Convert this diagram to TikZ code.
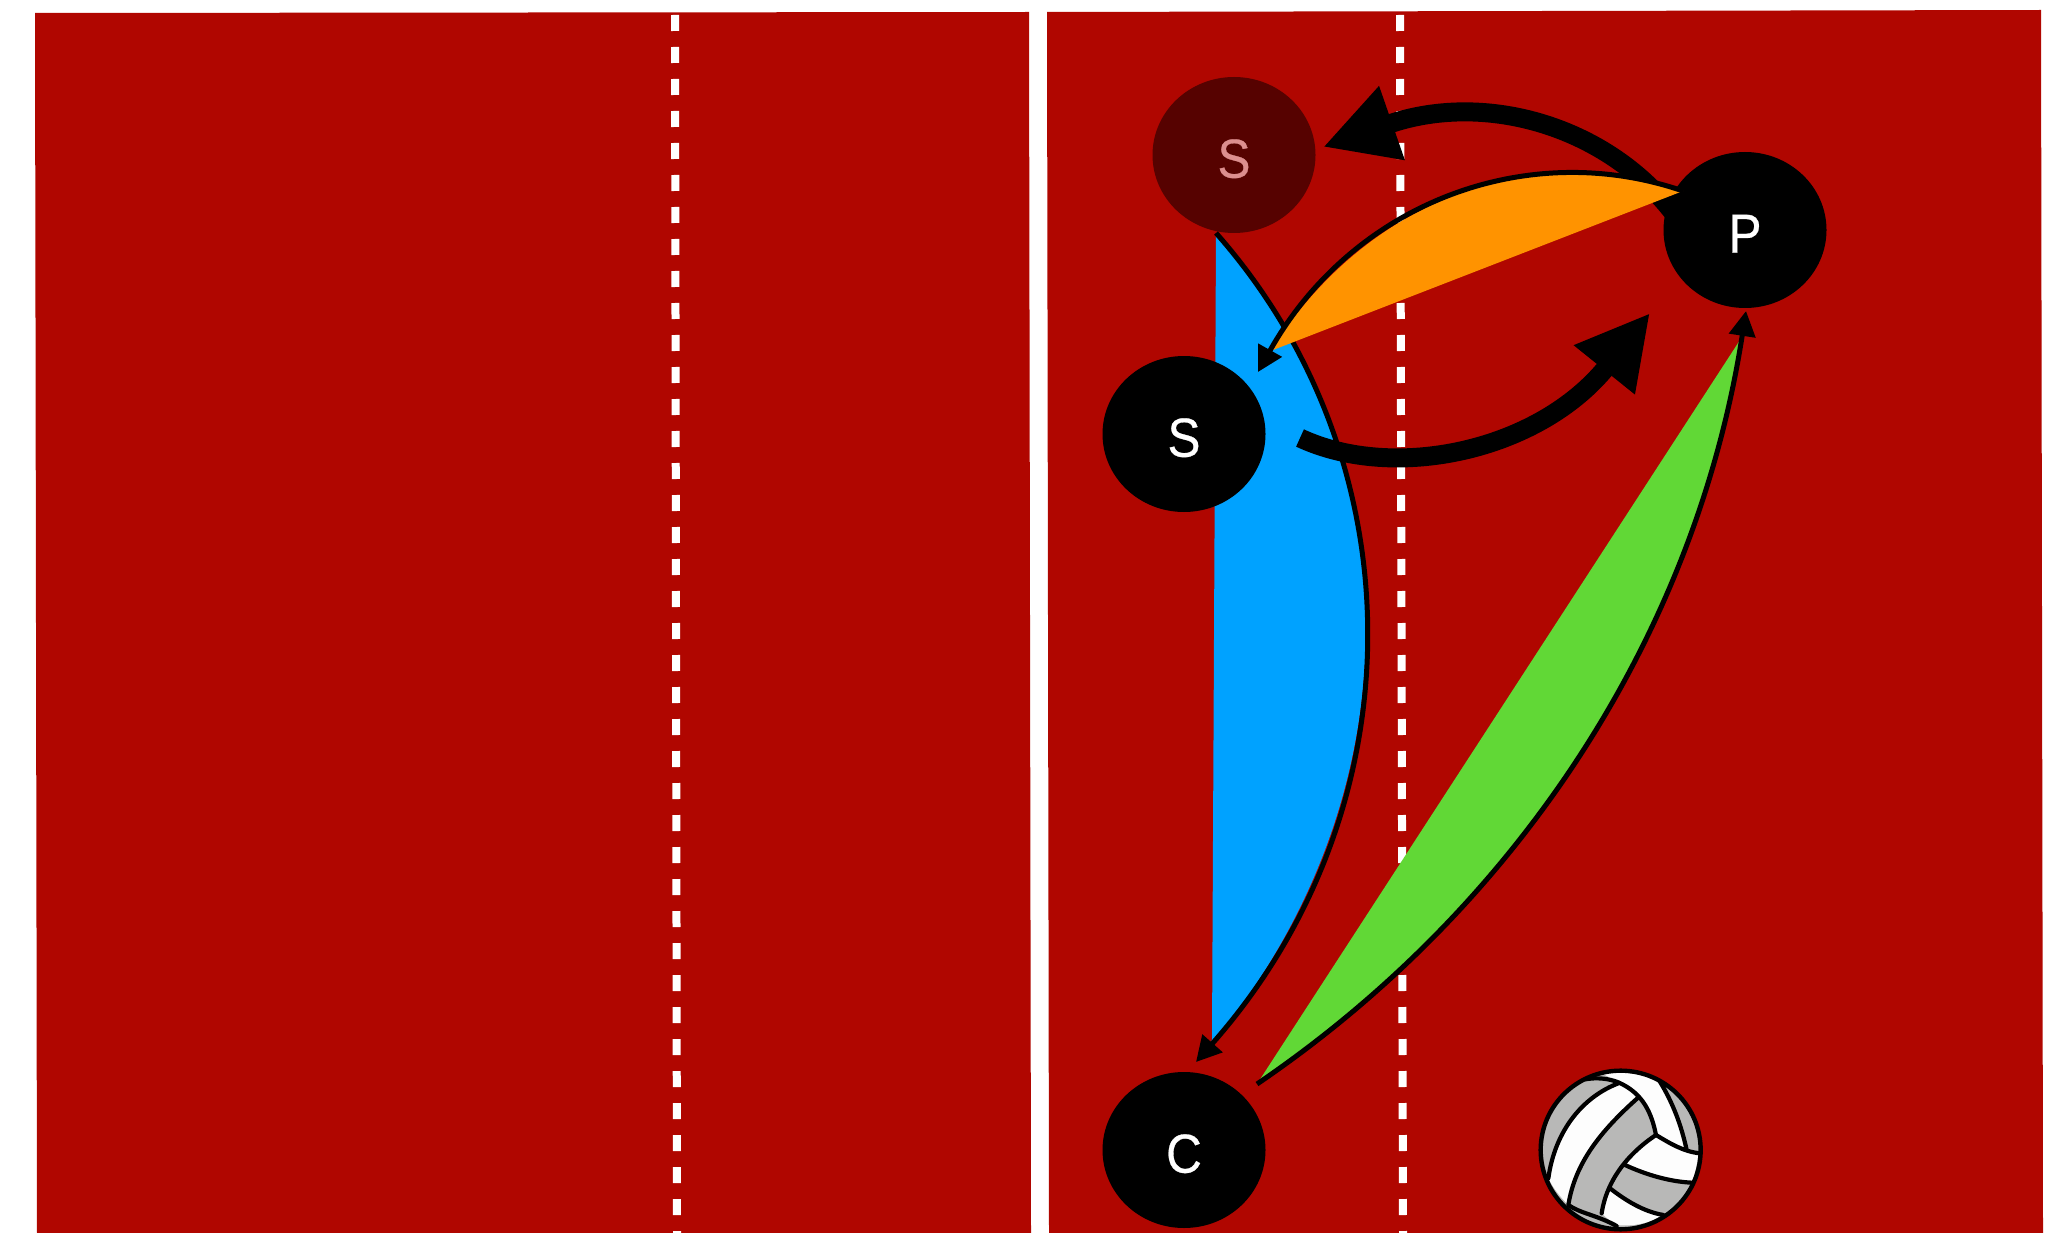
\documentclass[tikz,border=0pt]{standalone}
\usepackage{fontspec}
\setmainfont[FakeBold=0.5,FakeStretch=0.9]{Liberation Sans}
\usetikzlibrary{arrows.meta,shapes.geometric}
\definecolor{courtred}{HTML}{B00600}
\definecolor{darkplayer}{HTML}{560200}
\definecolor{darktext}{HTML}{DC8E8E}
\definecolor{passblue}{HTML}{00A2FF}
\definecolor{passorange}{HTML}{FF9300}
\definecolor{passgreen}{HTML}{61D836}
\definecolor{ballgray}{HTML}{B8B8B7}
\definecolor{ballwhite}{HTML}{FDFDFD}
\newcommand\plab[1]{\raisebox{-22.7pt}[0pt][0pt]{#1}}
\tikzset{
  player/.style={ellipse,draw=none,fill=black,text=white,minimum width=163pt,minimum height=156pt,inner sep=0pt,font=\fontsize{55}{55}\selectfont},
  ghostplayer/.style={player,fill=darkplayer,text=darktext},
  court/.style={fill=courtred,draw=none},
  netline/.style={draw=white,line width=8pt,dash pattern=on 16pt off 16pt},
  thinpass/.style={draw=black,line width=5pt,-{Triangle[length=25pt,width=26pt]}},
  thickrun/.style={draw=black,line width=19pt,-{Triangle[length=73pt,width=73pt]}},
  seam/.style={draw=black,line width=4.2pt,line cap=round,line join=round},
}
\begin{document}
\begin{tikzpicture}[x=1pt,y=-1pt]
\useasboundingbox (0,0) rectangle (2056,1233);
% courts
\fill[court] (35,13) -- (1029,12) -- (1031,1233) -- (37,1233) -- cycle;
\fill[court] (1047,12) -- (2041,10) -- (2043,1233) -- (1049,1233) -- cycle;
\coordinate (netLa) at (675,15); \coordinate (netLb) at (677,1233);
\coordinate (netRa) at (1400,15); \coordinate (netRb) at (1403,1233);
\draw[netline] (netLa) -- (netLb);
\draw[netline] (netRa) -- (netRb);
% ghost setter
\node[ghostplayer] (ghost) at (1234,155) {\plab{S}};
% free ends of connectors
\coordinate (blueA) at (1216,233);
\coordinate (blueB) at (1196,1062);
\coordinate (blueBase) at (1212,1040);
\coordinate (thickTopA) at (1682,225);
\coordinate (thickTopB) at (1323,147);
\coordinate (thickLowA) at (1300,438);
\coordinate (thickLowB) at (1650,313);
\coordinate (orangeA) at (1683,191);
\coordinate (orangeB) at (1258,372);
\coordinate (orangeBase) at (1273,350);
\coordinate (greenA) at (1257,1084);
\coordinate (greenB) at (1746,311);
\coordinate (greenBase) at (1740,340);
% blue pass
\fill[passblue] (blueA) .. controls (1420,464) and (1418,811) .. (blueB) -- (blueBase) -- cycle;
\draw[thinpass] (blueA) .. controls (1420,464) and (1418,811) .. (blueB);
% top run behind P
\draw[thickrun] (thickTopA) .. controls (1618,130) and (1490,89) .. (thickTopB);
% players
\node[player] (setter) at (1184,434) {\plab{S}};
\node[player] (passer) at (1745,230) {\plab{P}};
\node[player] (centre) at (1184,1150) {\plab{C}};
% low run
\draw[thickrun] (thickLowA) .. controls (1394.5,482) and (1539,451) .. (thickLowB);
% orange pass
\fill[passorange] (orangeA) .. controls (1526,137) and (1352,204) .. (orangeB) -- (orangeBase) -- cycle;
\draw[thinpass] (orangeA) .. controls (1526,137) and (1352,204) .. (orangeB);
% green pass
\fill[passgreen] (greenA) .. controls (1513,910) and (1695,640) .. (greenB) -- (greenBase) -- cycle;
\draw[thinpass] (greenA) .. controls (1513,910) and (1695,640) .. (greenB);
% ball
\begin{scope}[shift={(1500,1050)},x=0.3333pt,y=-0.3333pt]
\fill[ballgray] (362,300) ellipse [x radius=240,y radius=238];
\fill[ballwhite] (145,385) .. controls (165,240) and (250,140) .. (355,100) .. controls (385,115) and (405,130) .. (412,145) .. controls (300,245) and (225,340) .. (205,465) .. controls (180,440) and (160,415) .. (145,385) -- cycle;
\fill[ballwhite] (310,72) .. controls (350,62) and (430,70) .. (478,92) .. controls (520,160) and (545,230) .. (560,300) .. controls (530,290) and (495,270) .. (468,255) .. controls (455,190) and (430,130) .. (355,97) -- cycle;
\fill[ballwhite] (468,255) .. controls (510,280) and (550,305) .. (595,310) .. controls (592,340) and (585,370) .. (575,398) .. controls (510,395) and (440,375) .. (375,345) .. controls (400,310) and (435,280) .. (468,255) -- cycle;
\fill[ballwhite] (330,415) .. controls (375,450) and (430,485) .. (490,495) .. controls (450,520) and (400,530) .. (350,525) .. controls (335,515) and (320,505) .. (305,490) .. controls (310,465) and (318,440) .. (330,415) -- cycle;
\draw[seam] (145,385) .. controls (165,240) and (250,140) .. (355,100);
\draw[seam] (255,88) .. controls (290,82) and (325,85) .. (355,97) .. controls (430,130) and (455,190) .. (468,255);
\draw[seam] (412,145) .. controls (300,245) and (225,340) .. (205,465) .. controls (240,490) and (290,495) .. (350,528);
\draw[seam] (468,255) .. controls (385,310) and (320,390) .. (305,490);
\draw[seam] (468,255) .. controls (510,280) and (550,305) .. (600,310);
\draw[seam] (478,92) .. controls (520,160) and (545,230) .. (560,300);
\draw[seam] (375,345) .. controls (440,375) and (510,395) .. (575,398);
\draw[seam] (330,415) .. controls (375,450) and (430,485) .. (490,495);
\draw[black,line width=4.4pt] (362,300) ellipse [x radius=240,y radius=238];
\end{scope}
\end{tikzpicture}
\end{document}
